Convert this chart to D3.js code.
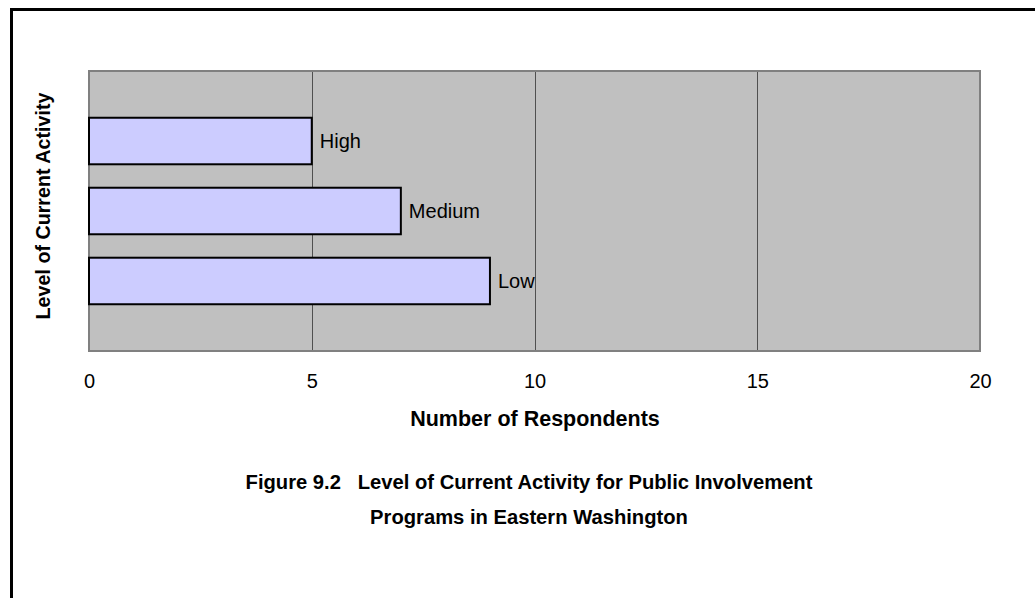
<!DOCTYPE html>
<html>
<head>
<meta charset="utf-8">
<script src="https://cdn.jsdelivr.net/npm/d3@7"></script>
<style>
  html, body { margin: 0; padding: 0; background: #fff; }
  svg { display: block; }
  text { font-family: "Liberation Sans", Arial, sans-serif; fill: #000; }
</style>
</head>
<body>
<svg id="chart" width="1035" height="598"></svg>
<script>
// Activity levels and how many respondents reported each
const categories = ["High", "Medium", "Low"];
const respondents = [5, 7, 9];
const xTicks = [0, 5, 10, 15, 20];

const titleLines = [
  "Figure 9.2   Level of Current Activity for Public Involvement",
  "Programs in Eastern Washington"
];
const xAxisTitle = "Number of Respondents";
const yAxisTitle = "Level of Current Activity";

const svg = d3.select("#chart");
const W = 1035, H = 598;
const plot = { left: 89, right: 980, top: 71, bottom: 351 };

// outer frame (runs off the right and bottom edges)
svg.append("rect")
  .attr("x", 11.5).attr("y", 9.5)
  .attr("width", W + 20).attr("height", H + 20)
  .attr("fill", "#fff").attr("stroke", "#000").attr("stroke-width", 3);

const x = d3.scaleLinear().domain([0, 20]).range([plot.left, plot.right]);
const y = d3.scaleBand().domain(categories)
  .range([plot.top, plot.bottom])
  .paddingInner(0.335).paddingOuter(0.668);

// plot background
svg.append("rect")
  .attr("x", plot.left).attr("y", plot.top)
  .attr("width", plot.right - plot.left).attr("height", plot.bottom - plot.top)
  .attr("fill", "#c0c0c0");

// vertical gridlines
svg.append("g").selectAll("line")
  .data(xTicks.filter(t => t > 0 && t < 20))
  .join("line")
  .attr("x1", d => Math.round(x(d)) + 0.5).attr("x2", d => Math.round(x(d)) + 0.5)
  .attr("y1", plot.top).attr("y2", plot.bottom)
  .attr("stroke", "#505050").attr("stroke-width", 1);

// plot border
svg.append("rect")
  .attr("x", plot.left).attr("y", plot.top)
  .attr("width", plot.right - plot.left).attr("height", plot.bottom - plot.top)
  .attr("fill", "none").attr("stroke", "#808080").attr("stroke-width", 2);

// bars
svg.append("g").selectAll("rect")
  .data(categories)
  .join("rect")
  .attr("x", x(0))
  .attr("y", d => y(d))
  .attr("width", (d, i) => x(respondents[i]) - x(0))
  .attr("height", y.bandwidth())
  .attr("fill", "#ccccff").attr("stroke", "#000").attr("stroke-width", 2);

// category labels at the bar ends
svg.append("g").selectAll("text")
  .data(categories)
  .join("text")
  .attr("x", (d, i) => x(respondents[i]) + 8)
  .attr("y", d => y(d) + y.bandwidth() / 2 + 7)
  .attr("font-size", 20)
  .text(d => d);

// x axis tick labels
const xAxis = d3.axisBottom(x).tickValues(xTicks).tickSize(0).tickPadding(0);
const gx = svg.append("g")
  .attr("transform", `translate(0,${plot.bottom})`)
  .call(xAxis);
gx.select(".domain").remove();
gx.selectAll("text")
  .attr("dy", null)
  .attr("y", 37)
  .attr("font-size", 20)
  .attr("font-family", "Liberation Sans, Arial, sans-serif")
  .attr("fill", "#000");

// axis titles
svg.append("text")
  .attr("x", 535).attr("y", 426)
  .attr("text-anchor", "middle")
  .attr("font-size", 21.5).attr("font-weight", "bold")
  .text(xAxisTitle);

svg.append("text")
  .attr("transform", "translate(50,206) rotate(-90)")
  .attr("text-anchor", "middle")
  .attr("font-size", 19.7).attr("font-weight", "bold")
  .text(yAxisTitle);

// figure caption
svg.append("g").selectAll("text")
  .data(titleLines)
  .join("text")
  .attr("x", 529)
  .attr("y", (d, i) => 489 + i * 35)
  .attr("text-anchor", "middle")
  .attr("font-size", 20.2).attr("font-weight", "bold")
  .style("white-space", "pre")
  .text(d => d);
</script>
</body>
</html>
